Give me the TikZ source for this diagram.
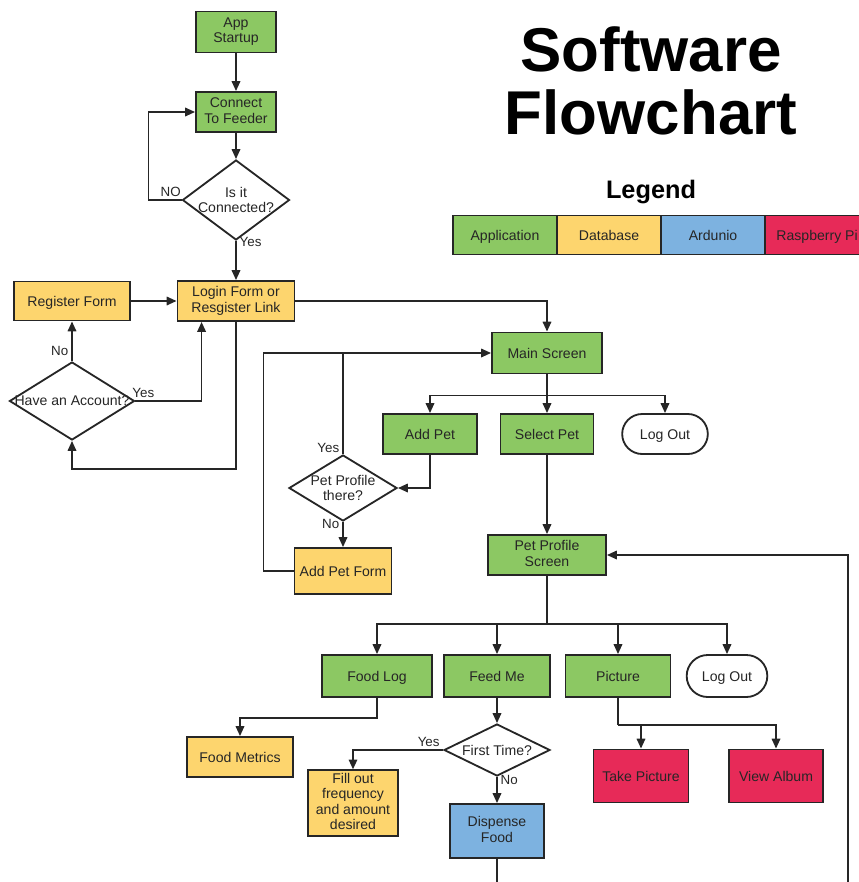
\documentclass[tikz,border=0pt]{standalone}
\usepackage{fontspec}
\setmainfont{Liberation Sans}
\usetikzlibrary{arrows.meta,positioning,shapes.geometric,shapes.misc}
\definecolor{appgreen}{HTML}{8CC863}
\definecolor{dbyellow}{HTML}{FDD56E}
\definecolor{ardblue}{HTML}{7DB2E0}
\definecolor{rpired}{HTML}{E72A58}
\definecolor{inkgray}{HTML}{262626}
\newcommand{\capstrut}{\rule[-2.3pt]{0pt}{11.8pt}}
\begin{document}
\begin{tikzpicture}[x=0.025cm, y=-0.025cm, line width=1.3pt, color=inkgray,
  every node/.style={font=\fontsize{10}{11}\selectfont, text=inkgray},
  box/.style={rectangle, draw, align=center, inner sep=2pt,
    execute at begin node=\capstrut, execute at end node=\capstrut},
  app/.style={box, fill=appgreen},
  db/.style={box, fill=dbyellow},
  ard/.style={box, fill=ardblue},
  rpi/.style={box, fill=rpired},
  term/.style={rounded rectangle, draw, fill=white, align=center,
    execute at begin node=\capstrut},
  decision/.style={diamond, draw, fill=white, inner sep=0pt},
  lbl/.style={font=\fontsize{9.5}{11}\selectfont, inner sep=2pt},
  arr/.style={-{Triangle[length=7pt,width=6pt]}},
  legbox/.style={box, outer sep=0pt, minimum width=2.6cm, minimum height=0.975cm},
  sz/.style 2 args={minimum width=#1cm, minimum height=#2cm}]
  \useasboundingbox (0,0) rectangle (858,882);
  % title and legend
  \node[font=\bfseries\fontsize{44}{45}\selectfont, anchor=base, text=black] (title1) at (651,71) {Software};
  \node[font=\bfseries\fontsize{44}{45}\selectfont, anchor=base, text=black] (title2) at (651,134) {Flowchart};
  \node[font=\bfseries\fontsize{18}{20}\selectfont, anchor=base, text=black] (legend) at (651,198) {Legend};
  \node[legbox, fill=appgreen] (lgapp) at (505,235) {Application};
  \node[legbox, fill=dbyellow, right=0pt of lgapp] (lgdb) {Database};
  \node[legbox, fill=ardblue, right=0pt of lgdb] (lgard) {Ardunio};
  \node[legbox, fill=rpired, right=0pt of lgard] (lgrpi) {Raspberry Pi};
  % startup and login
  \node[app, sz={2.0}{1.025}] (start) at (236,32) {App\\Startup};
  \node[app, sz={2.0}{1.0}] (connect) at (236,112) {Connect\\To Feeder};
  \node[decision, minimum width=2.675cm, minimum height=2.0cm,
    label={[align=center]center:Is it\\Connected?}] (isconn) at (236,200) {};
  \node[db, sz={2.925}{1.0}] (login) at (236,301) {Login Form or\\Resgister Link};
  \node[db, sz={2.9}{0.975}] (register) at (72,301) {Register Form};
  \node[decision, minimum width=3.125cm, minimum height=1.95cm,
    label={center:Have an Account?}] (hasacc) at (72,401) {};
  % main screen
  \node[app, sz={2.75}{1.025}] (main) at (547,353) {Main Screen};
  \node[app, sz={2.35}{1.0}] (addpet) at (430,434) {Add Pet};
  \node[app, sz={2.325}{1.0}] (selpet) at (547,434) {Select Pet};
  \node[term, sz={2.375}{1.0}] (logout) at (665,434) {Log Out};
  \node[decision, minimum width=2.7cm, minimum height=1.65cm,
    label={[align=center]center:Pet Profile\\there?}] (petq) at (343,488) {};
  \node[db, sz={2.425}{1.15}] (addform) at (343,571) {Add Pet Form};
  % pet profile
  \node[app, sz={2.95}{1.0}] (profile) at (547,555) {Pet Profile\\Screen};
  \node[app, sz={2.75}{1.05}] (foodlog) at (377,676) {Food Log};
  \node[app, sz={2.65}{1.05}] (feedme) at (497,676) {Feed Me};
  \node[app, sz={2.625}{1.05}] (picture) at (618,676) {Picture};
  \node[term, sz={2.25}{1.05}] (logoutb) at (727,676) {Log Out};
  \node[db, sz={2.65}{1.0}] (metrics) at (240,757) {Food Metrics};
  \node[decision, minimum width=2.65cm, minimum height=1.3cm,
    label={center:First Time?}] (firstq) at (497,750) {};
  \node[db, sz={2.25}{1.625}] (fillout) at (353,803) {Fill out\\frequency\\and amount\\desired};
  \node[ard, sz={2.35}{1.35}] (dispense) at (497,831) {Dispense\\Food};
  \node[rpi, sz={2.375}{1.325}] (takepic) at (641,776) {Take Picture};
  \node[rpi, sz={2.35}{1.325}] (album) at (776,776) {View Album};
  % connectors
  \draw[arr] (start) -- (connect);
  \draw[arr] (connect) -- (isconn);
  \draw[arr] (isconn.west) -- node[lbl, above, pos=0.33] (lno1) {NO} ++(-33,0) |- (connect.west);
  \draw[arr] (isconn) -- node[lbl, anchor=west, pos=0.03] (lyes1) {Yes} (login);
  \draw[arr] (register) -- (login);
  \draw[arr] (hasacc) -- node[lbl, anchor=east, pos=0.25] (lno2) {No} (register);
  \draw[arr] (hasacc.east) -| node[lbl, above, pos=0.06] (lyes2) {Yes} ([xshift=0.625cm]login.south west);
  \draw[arr] (login.south) -- ++(0,147) -| (hasacc.south);
  \draw[arr] (login.east) -| (main.north);
  \draw[arr] (addform.west) -- ++(-30,0) |- (main.west);
  \draw (petq.north) -- node[lbl, anchor=east, pos=0.06] (lyes3) {Yes} (petq.north |- main.west);
  \draw (main.south) -- ++(0,21) coordinate (mainfork);
  \draw[arr] (mainfork) -| (addpet.north);
  \draw[arr] (mainfork) -- (selpet.north);
  \draw[arr] (mainfork) -| (logout.north);
  \draw[arr] (addpet.south) |- (petq.east);
  \draw[arr] (petq) -- node[lbl, anchor=east, pos=0.1] (lno3) {No} (addform);
  \draw[arr] (selpet) -- (profile);
  \coordinate (loopend) at (848,900);
  \draw[arr] (dispense.south) |- (loopend) |- (profile.east);
  \draw (profile.south) -- ++(0,48) coordinate (profork);
  \draw[arr] (profork) -| (foodlog.north);
  \draw[arr] (profork) -| (feedme.north);
  \draw[arr] (profork) -| (picture.north);
  \draw[arr] (profork) -| (logoutb.north);
  \draw[arr] (foodlog.south) -- ++(0,20) -| (metrics.north);
  \draw[arr] (feedme) -- (firstq);
  \draw[arr] (firstq.west) -| node[lbl, above, pos=0.08] (lyes4) {Yes} (fillout.north);
  \draw[arr] (firstq) -- node[lbl, anchor=west, pos=0.1] (lno4) {No} (dispense);
  \draw (picture.south) -- ++(0,27) coordinate (picfork);
  \draw[arr] (picfork) -| (takepic.north);
  \draw[arr] (picfork) -| (album.north);
\end{tikzpicture}
\end{document}
